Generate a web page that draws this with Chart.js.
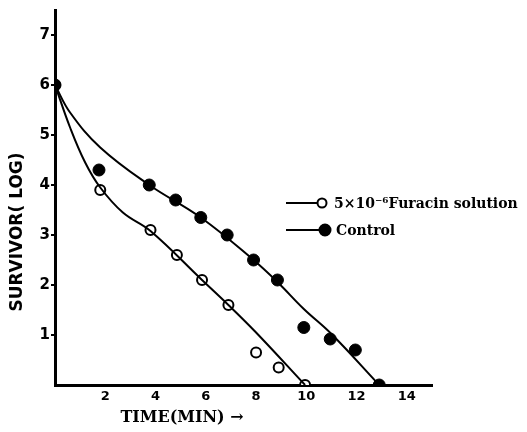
<!DOCTYPE html>
<html>
<head>
<meta charset="utf-8">
<script src="https://cdn.jsdelivr.net/npm/chart.js@4.4.0/dist/chart.umd.min.js"></script>
<style>
  html, body { margin: 0; padding: 0; background: #fff; }
  #wrap { width: 527px; height: 432px; }
</style>
</head>
<body>
<div id="wrap"><canvas id="survivor_chart" width="527" height="432"></canvas></div>
<script>
// measured points
var furacinTime = [0, 1.8, 3.8, 4.85, 5.85, 6.9, 8.0, 8.9, 9.95];
var furacinLog  = [6, 3.9, 3.1, 2.6, 2.1, 1.6, 0.65, 0.35, 0];
var controlTime = [0, 1.75, 3.75, 4.8, 5.8, 6.85, 7.9, 8.85, 9.9, 10.95, 11.95, 12.9];
var controlLog  = [6, 4.3, 4.0, 3.7, 3.35, 3.0, 2.5, 2.1, 1.15, 0.92, 0.7, 0];

// fitted curves as drawn
var furacinCurveTime = [0, 0.6, 1.2, 1.8, 2.7, 3.8, 5.85, 6.9, 8.0, 9.95];
var furacinCurveLog  = [6, 5.15, 4.45, 3.95, 3.45, 3.08, 2.1, 1.6, 1.05, 0];
var controlCurveTime = [0, 0.6, 1.8, 3.75, 5.8, 7.9, 8.85, 9.9, 11.0, 12.9];
var controlCurveLog  = [6, 5.45, 4.75, 4.0, 3.35, 2.5, 2.06, 1.52, 1.02, 0];

var xTicks = [2, 4, 6, 8, 10, 12, 14];
var yTicks = [1, 2, 3, 4, 5, 6, 7];

var seriesLabels = ['5\u00d710\u207b\u2076Furacin solution', 'Control'];

function pairs(xs, ys) {
  return xs.map(function(x, i){ return {x: x, y: ys[i]}; });
}

var SERIF = '"DejaVu Serif", "Liberation Serif", serif';
var SANS = '"DejaVu Sans", "Liberation Sans", sans-serif';

// axis titles + legend drawn inside the figure like the original print
var decorations = {
  id: 'decorations',
  afterDraw: function(chart) {
    var ctx = chart.ctx;
    ctx.save();
    ctx.fillStyle = '#000';
    ctx.textAlign = 'center';
    ctx.textBaseline = 'middle';

    ctx.save();
    ctx.font = 'bold 17px ' + SANS;
    ctx.translate(18, 232);
    ctx.rotate(-Math.PI / 2);
    ctx.fillText('SURVIVOR( LOG)', 0, 0);
    ctx.restore();

    ctx.font = 'bold 16px ' + SERIF;
    ctx.fillText('TIME(MIN) \u2192', 182, 418);

    // legend
    var rows = [
      {y: 203, fill: '#fff', r: 4.5, cx: 322, tx: 334},
      {y: 230, fill: '#000', r: 5.5, cx: 325, tx: 336}
    ];
    ctx.textAlign = 'left';
    ctx.font = 'bold 14px ' + SERIF;
    rows.forEach(function(row, i){
      ctx.strokeStyle = '#000';
      ctx.lineWidth = 2;
      ctx.beginPath();
      ctx.moveTo(286, row.y);
      ctx.lineTo(row.cx - row.r, row.y);
      ctx.stroke();
      ctx.beginPath();
      ctx.arc(row.cx, row.y, row.r, 0, Math.PI * 2);
      ctx.fillStyle = row.fill;
      ctx.fill();
      ctx.stroke();
      ctx.fillStyle = '#000';
      ctx.fillText(seriesLabels[i], row.tx, row.y + 1);
    });
    ctx.restore();
  }
};

var ctx = document.getElementById('survivor_chart');
var survivorChart = new Chart(ctx, {
  type: 'scatter',
  data: {
    datasets: [
      {
        label: 'furacin curve',
        data: pairs(furacinCurveTime, furacinCurveLog),
        showLine: true,
        borderColor: '#000',
        borderWidth: 2,
        pointRadius: 0,
        tension: 0.4
      },
      {
        label: 'control curve',
        data: pairs(controlCurveTime, controlCurveLog),
        showLine: true,
        borderColor: '#000',
        borderWidth: 2,
        pointRadius: 0,
        tension: 0.4
      },
      {
        label: seriesLabels[1],
        data: pairs(controlTime, controlLog),
        pointRadius: 6,
        pointBackgroundColor: '#000',
        pointBorderColor: '#000',
        pointBorderWidth: 1
      },
      {
        label: seriesLabels[0],
        data: pairs(furacinTime, furacinLog),
        pointRadius: 5,
        pointBackgroundColor: '#fff',
        pointBorderColor: '#000',
        pointBorderWidth: 2
      }
    ]
  },
  options: {
    responsive: false,
    animation: false,
    layout: {
      padding: { left: 35, right: 95, top: 10, bottom: 22 }
    },
    plugins: {
      legend: { display: false },
      tooltip: { enabled: false }
    },
    scales: {
      x: {
        type: 'linear',
        min: 0,
        max: 15,
        afterBuildTicks: function(scale){
          scale.ticks = xTicks.map(function(v){ return {value: v}; });
        },
        afterFit: function(scale){ scale.height = 25; },
        grid: { display: false, drawTicks: false },
        border: { display: true, color: '#000', width: 3 },
        ticks: {
          padding: 4,
          color: '#000',
          font: { family: SANS, size: 13, weight: 'bold' }
        }
      },
      y: {
        min: 0,
        max: 7.5,
        afterBuildTicks: function(scale){
          scale.ticks = yTicks.map(function(v){ return {value: v}; });
        },
        afterFit: function(scale){ scale.width = 20; },
        grid: { drawOnChartArea: false, drawTicks: true, tickLength: 4, color: '#000', lineWidth: 2 },
        border: { display: true, color: '#000', width: 3 },
        ticks: {
          padding: 1,
          color: '#000',
          font: { family: SANS, size: 15, weight: 'bold' }
        }
      }
    }
  },
  plugins: [decorations]
});
</script>
</body>
</html>
